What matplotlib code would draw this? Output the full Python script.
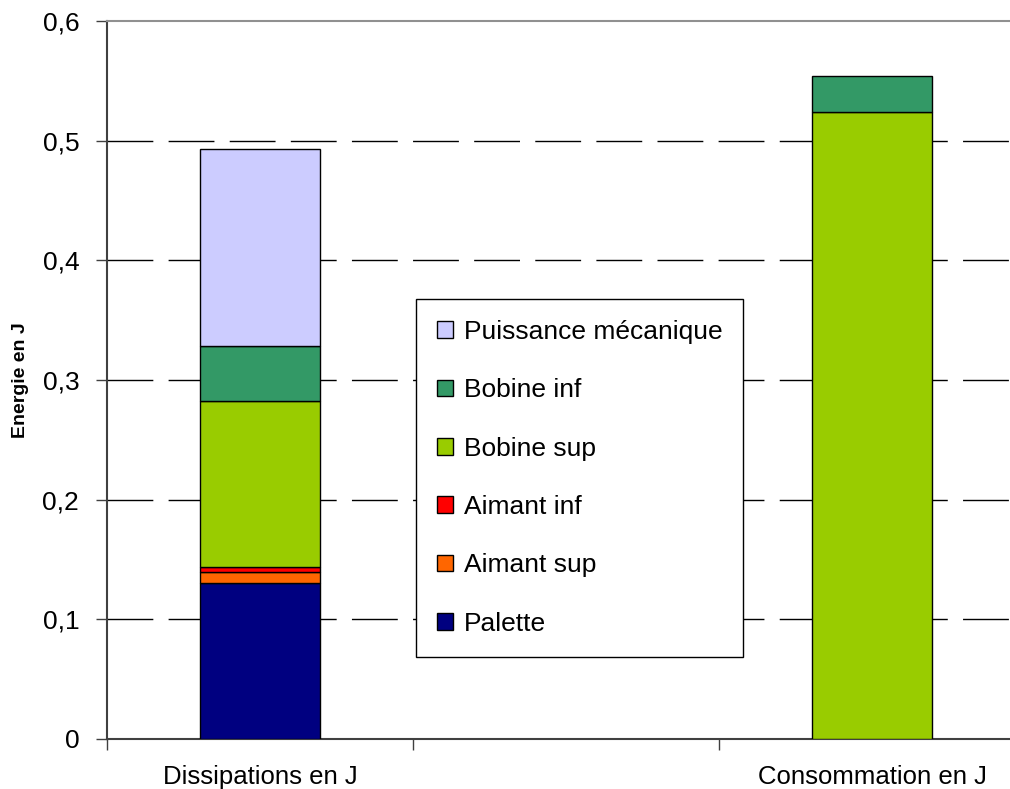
import numpy as np
import matplotlib
matplotlib.use('Agg')
import matplotlib.pyplot as plt

# categories (the middle one is an empty slot, as in the original sheet)
categories = ['Dissipations en J', '', 'Consommation en J']

# series values, bottom to top of the stack
series_names = ['Palette', 'Aimant sup', 'Aimant inf', 'Bobine sup', 'Bobine inf', 'Puissance mécanique']
palette = [0.130, 0.0, 0.0]
aimant_sup = [0.0095, 0.0, 0.0]
aimant_inf = [0.0042, 0.0, 0.0]
bobine_sup = [0.1387, 0.0, 0.524]
bobine_inf = [0.046, 0.0, 0.030]
puissance_meca = [0.165, 0.0, 0.0]

series_values = [palette, aimant_sup, aimant_inf, bobine_sup, bobine_inf, puissance_meca]
colors = ['#000080', '#FF6600', '#FF0000', '#99CC00', '#339966', '#CCCCFF']

yticks = [0, 0.1, 0.2, 0.3, 0.4, 0.5, 0.6]
ytick_labels = ['0', '0,1', '0,2', '0,3', '0,4', '0,5', '0,6']

plt.rcParams['font.family'] = ['Liberation Sans', 'DejaVu Sans']

fig = plt.figure(figsize=(10.10, 7.89), dpi=100)
ax = fig.add_axes([107 / 1010, 50 / 789, 918 / 1010, 718 / 789])

x = np.arange(len(categories))
bottom = np.zeros(len(categories))
handles = []
for name, vals, col in zip(series_names, series_values, colors):
    vals = np.array(vals)
    mask = vals > 0
    b = ax.bar(x[mask], vals[mask], width=0.395, bottom=bottom[mask], color=col,
               edgecolor='black', linewidth=1.0, label=name, zorder=3)
    handles.append(b)
    bottom += vals

ax.set_xlim(-0.5, 2.5)
ax.set_ylim(0, 0.6)

# horizontal dashed gridlines
ax.set_yticks(yticks)
ax.set_yticklabels(ytick_labels, fontsize=19)
for yv in yticks[1:-1]:
    ax.axhline(yv, color='black', linewidth=1.0, dashes=(33, 11), zorder=1)

# category axis: tick marks between categories, labels at centres
ax.set_xticks([-0.5, 0.5, 1.5, 2.5])
ax.set_xticklabels([])
ax.set_xticks(x, minor=True)
ax.set_xticklabels(categories, minor=True, fontsize=18.5)
ax.tick_params(axis='x', which='minor', length=0, pad=19)
ax.tick_params(axis='x', which='major', length=8, width=1, color='#404040', direction='out')
ax.tick_params(axis='y', length=8, width=1, color='#404040', direction='out', pad=12)

ax.spines['top'].set_color('#909090')
ax.spines['top'].set_linewidth(1.5)
ax.spines['right'].set_visible(False)
ax.spines['left'].set_color('#404040')
ax.spines['left'].set_linewidth(1.5)
ax.spines['bottom'].set_color('#404040')
ax.spines['bottom'].set_linewidth(1.5)

ax.set_ylabel('Energie en J', fontsize=14, fontweight='bold', labelpad=10)

leg = ax.legend(handles[::-1], series_names[::-1], loc='upper left',
                bbox_to_anchor=((416 - 107) / 918, (739 - 299) / 718),
                fontsize=19, frameon=True, fancybox=False, framealpha=1,
                borderaxespad=0, handlelength=0.6, handleheight=0.6,
                handletextpad=0.4, labelspacing=1.3, borderpad=0.8)
leg.get_frame().set_edgecolor('black')
leg.get_frame().set_linewidth(1.0)
leg.set_zorder(5)

fig.savefig('out.png', dpi=100)
